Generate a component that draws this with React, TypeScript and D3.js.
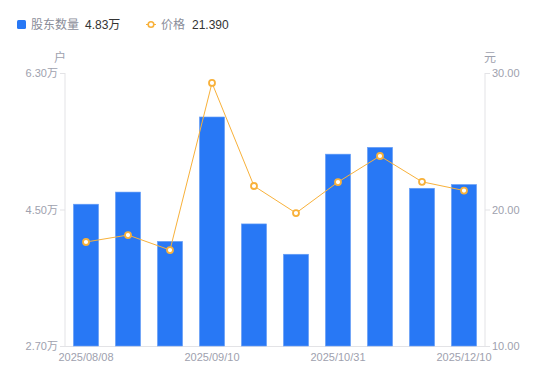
import React from "react";
import * as d3 from "d3";

const categories = [
  "2025/08/08", "2025/08/20", "2025/08/31", "2025/09/10", "2025/09/30",
  "2025/10/20", "2025/10/31", "2025/11/10", "2025/11/30", "2025/12/10",
];
const holders = [4.57, 4.73, 4.08, 5.72, 4.31, 3.91, 5.23, 5.32, 4.78, 4.83];
const prices = [17.62, 18.13, 17.03, 29.27, 21.72, 19.74, 22.01, 23.92, 22.03, 21.39];
const leftTicks = [2.7, 4.5, 6.3];
const rightTicks = [10, 20, 30];
const shownLabels = [0, 3, 6, 9];

const W = 550, H = 381;
const left = 65, right = 485, top = 73, bottom = 346;
const FONT = "'Liberation Sans', Arial, 'Noto Sans CJK SC', sans-serif";
const BLUE = "#2878f5";
const ORANGE = "#f8b13a";
const GRAY = "#9ea1ae";
const AXIS = "#e3e3e6";

export default function App() {
  const x = d3.scaleBand().domain(categories).range([left, right]).paddingInner(0.4).paddingOuter(0.2);
  const xc = (c: string) => (x(c) as number) + x.bandwidth() / 2;
  const yL = d3.scaleLinear().domain([2.7, 6.3]).range([bottom, top]);
  const yR = d3.scaleLinear().domain([10, 30]).range([bottom, top]);
  const line = d3.line<number>().x((_, i) => xc(categories[i])).y((d) => yR(d));

  return (
    <svg width={W} height={H} style={{ position: "absolute", left: 0, top: 0, fontFamily: FONT }}>
      {/* legend */}
      <rect x={17} y={20} width={9} height={9} rx={1.5} fill={BLUE} />
      <text x={31} y={29} fontSize={12} fill="#8a8d99">股东数量</text>
      <text x={85} y={29} fontSize={12} fill="#333">{holders[holders.length - 1].toFixed(2)}万</text>
      <line x1={146} x2={156} y1={24.5} y2={24.5} stroke={ORANGE} strokeWidth={1} />
      <circle cx={151} cy={24.5} r={2.8} fill="#fff" stroke={ORANGE} strokeWidth={1.6} />
      <text x={161} y={29} fontSize={12} fill="#8a8d99">价格</text>
      <text x={192} y={29} fontSize={12} fill="#333">{prices[prices.length - 1].toFixed(3)}</text>

      {/* axis unit labels */}
      <text x={60} y={62} fontSize={12} fill={GRAY} textAnchor="middle">户</text>
      <text x={490} y={62} fontSize={12} fill={GRAY} textAnchor="middle">元</text>

      {/* axes */}
      <line x1={left} x2={left} y1={top} y2={bottom} stroke={AXIS} />
      <line x1={right} x2={right} y1={top} y2={bottom} stroke={AXIS} />
      <line x1={left} x2={right} y1={bottom + 0.5} y2={bottom + 0.5} stroke={AXIS} />
      {leftTicks.map((t) => (
        <g key={"l" + t}>
          <line x1={left - 5} x2={left} y1={yL(t) + 0.5} y2={yL(t) + 0.5} stroke={AXIS} />
          <text x={left - 7} y={yL(t) + 4} fontSize={11} fill={GRAY} textAnchor="end">{t.toFixed(2)}万</text>
        </g>
      ))}
      {rightTicks.map((t) => (
        <g key={"r" + t}>
          <line x1={right} x2={right + 5} y1={yR(t) + 0.5} y2={yR(t) + 0.5} stroke={AXIS} />
          <text x={right + 7} y={yR(t) + 4} fontSize={11} fill={GRAY}>{t.toFixed(2)}</text>
        </g>
      ))}
      {shownLabels.map((i) => (
        <text key={"x" + i} x={xc(categories[i])} y={361} fontSize={11} fill={GRAY} textAnchor="middle">{categories[i]}</text>
      ))}

      {/* bars */}
      {holders.map((v, i) => (
        <rect key={"b" + i} x={x(categories[i])} y={yL(v)} width={x.bandwidth()} height={bottom - yL(v)} fill={BLUE} stroke="#6ea2f6" strokeWidth={0.6} />
      ))}

      {/* line */}
      <path d={line(prices) || ""} fill="none" stroke={ORANGE} strokeWidth={1} />
      {prices.map((v, i) => (
        <circle key={"p" + i} cx={xc(categories[i])} cy={yR(v)} r={3} fill="#fff" stroke={ORANGE} strokeWidth={1.8} />
      ))}
    </svg>
  );
}
